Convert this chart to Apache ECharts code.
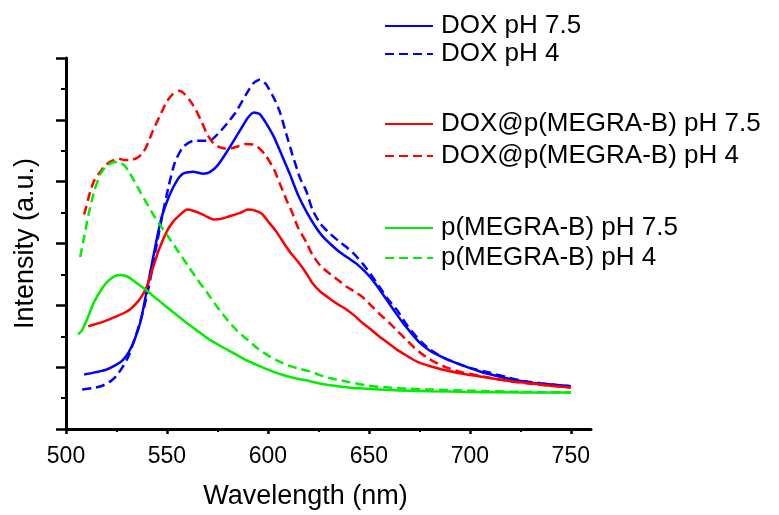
<!DOCTYPE html>
<html><head><meta charset="utf-8">
<script src="https://cdn.jsdelivr.net/npm/echarts@6/dist/echarts.min.js"></script>
<style>html,body{margin:0;padding:0;background:#fff}#c{width:779px;height:515px}</style>
</head><body><div id="c"></div>
<script>
const xTicks = [500, 550, 600, 650, 700, 750];
const names = ['DOX pH 7.5','DOX pH 4','DOX@p(MEGRA-B) pH 7.5','DOX@p(MEGRA-B) pH 4','p(MEGRA-B) pH 7.5','p(MEGRA-B) pH 4'];

const doxA_x = [509,515,520,525,528,531,534,537,540,543,547,551,555,558,563,568,571,575,580,586,590,593,596,599,603,607,611,615,619,623,627,632,636,640,644,650,655,659,663,667,671,675,680,684,690,697,705,713,721,730,740,750];
const doxA_y = [0.88,0.92,0.96,1.04,1.11,1.24,1.45,1.75,2.24,2.75,3.38,3.76,4.02,4.13,4.16,4.13,4.15,4.26,4.50,4.82,5.03,5.12,5.09,4.95,4.72,4.42,4.11,3.78,3.52,3.30,3.12,2.96,2.85,2.76,2.67,2.48,2.27,2.08,1.89,1.71,1.55,1.40,1.27,1.20,1.11,1.02,0.93,0.86,0.80,0.75,0.72,0.69];

const doxB_x = [508,513,518,522,525,528,531,535,538,541,545,548,551,554,558,563,567,571,576,580,584,589,593,596,599,603,606,609,612,616,619,622,626,631,635,639,643,647,651,655,659,664,668,672,676,680,686,693,701,710,718,726,735,743,750];
const doxB_y = [0.64,0.66,0.70,0.77,0.86,1.00,1.18,1.55,1.88,2.30,3.00,3.50,3.95,4.32,4.56,4.66,4.66,4.66,4.80,4.95,5.12,5.40,5.60,5.65,5.58,5.35,5.12,4.78,4.45,4.05,3.85,3.55,3.32,3.15,3.04,2.94,2.82,2.67,2.50,2.31,2.12,1.92,1.72,1.55,1.41,1.29,1.17,1.07,0.98,0.91,0.84,0.78,0.74,0.71,0.69];

const pdA_x = [511,515,519,525,529,532,535,537,540,543,546,550,553,556,560,563,567,570,573,577,581,586,590,593,597,600,604,608,611,615,619,622,626,631,635,639,643,647,651,655,660,664,668,672,676,680,688,697,705,713,721,730,740,750];
const pdA_y = [1.66,1.70,1.74,1.82,1.88,1.94,2.04,2.12,2.30,2.60,2.90,3.20,3.35,3.45,3.55,3.53,3.48,3.43,3.39,3.40,3.44,3.49,3.55,3.54,3.48,3.36,3.20,3.00,2.86,2.70,2.52,2.36,2.22,2.10,2.01,1.93,1.83,1.71,1.61,1.50,1.38,1.28,1.20,1.12,1.06,1.02,0.95,0.89,0.85,0.81,0.77,0.74,0.70,0.67];

const pdB_x = [509,512,514,517,520,523,526,529,532,535,538,540,543,547,550,553,556,558,561,564,567,570,573,576,580,584,589,593,596,599,603,606,609,612,615,619,622,626,631,635,639,643,647,651,655,660,664,668,672,676,680,688,697,705,713,721,730,740,750];
const pdB_y = [3.47,3.84,4.02,4.16,4.28,4.34,4.37,4.35,4.35,4.38,4.46,4.58,4.82,5.10,5.30,5.42,5.47,5.44,5.33,5.18,4.98,4.76,4.62,4.56,4.53,4.56,4.61,4.60,4.53,4.42,4.20,3.96,3.72,3.50,3.25,3.02,2.82,2.64,2.50,2.40,2.30,2.22,2.13,2.00,1.87,1.72,1.59,1.46,1.33,1.22,1.13,1.00,0.91,0.86,0.81,0.77,0.73,0.70,0.67];

const pA_x = [506,508,511,514,518,521,524,527,530,533,537,540,545,550,555,560,565,570,575,580,585,590,595,600,605,610,615,620,625,630,640,650,660,670,680,700,725,750];
const pA_y = [1.53,1.60,1.82,2.06,2.28,2.40,2.47,2.49,2.47,2.41,2.31,2.24,2.10,1.97,1.84,1.71,1.59,1.47,1.37,1.28,1.19,1.10,1.03,0.96,0.90,0.85,0.81,0.78,0.74,0.71,0.67,0.65,0.63,0.62,0.61,0.60,0.59,0.59];

const pB_x = [507,509,511,514,517,520,523,526,529,531,534,537,540,543,547,550,555,560,565,570,575,580,585,590,595,600,605,610,615,620,625,630,640,650,660,670,680,700,725,750];
const pB_y = [2.78,3.10,3.45,3.85,4.12,4.25,4.31,4.32,4.26,4.17,4.00,3.82,3.65,3.48,3.28,3.14,2.90,2.66,2.42,2.20,1.97,1.76,1.58,1.44,1.30,1.19,1.10,1.03,0.98,0.94,0.88,0.83,0.76,0.70,0.67,0.65,0.64,0.62,0.60,0.59];

const zip = (xs, ys) => xs.map((x, i) => [x, ys[i]]);
const FONT = 'Liberation Sans, Arial, sans-serif';
function mk(name, xs, ys, color, dashed) {
  return {
    name, type: 'line', data: zip(xs, ys), showSymbol: false, symbol: 'none', smooth: 0.2,
    lineStyle: { color, width: 2.5, type: dashed ? [9, 5] : 'solid' },
    itemStyle: { color }, z: 3
  };
}
function lg(items, top, gap) {
  return {
    data: items, left: 384, top, orient: 'vertical', itemWidth: 48, itemHeight: 14, itemGap: gap,
    padding: 0, selectedMode: false,
    itemStyle: { color: 'rgba(0,0,0,0)', borderColor: 'rgba(0,0,0,0)', borderWidth: 0 },
    textStyle: { fontFamily: FONT, fontSize: 26, color: '#000', lineHeight: 28, padding: [0, 0, 0, 3] }
  };
}
const chart = echarts.init(document.getElementById('c'), null, { renderer: 'canvas' });
chart.setOption({
  animation: false,
  backgroundColor: '#fff',
  textStyle: { fontFamily: FONT },
  grid: { left: 66, right: 188, top: 58, bottom: 81, containLabel: false },
  legend: [lg([names[0], names[1]], 12, 0), lg([names[2], names[3]], 110, 4), lg([names[4], names[5]], 214, 2)],
  xAxis: {
    type: 'value', min: 500, max: 760, interval: 50,
    name: 'Wavelength (nm)', nameLocation: 'middle', nameGap: 54,
    nameTextStyle: { fontSize: 27, color: '#000', fontFamily: FONT, padding: [0, 46, 0, 0] },
    axisLine: { lineStyle: { color: '#000', width: 3 } },
    axisTick: { show: true, length: 5, lineStyle: { color: '#000', width: 2.5 }, customValues: xTicks },
    minorTick: { show: true, splitNumber: 2, length: 3, lineStyle: { color: '#000', width: 2 } },
    axisLabel: { fontSize: 23, color: '#000', margin: 16, fontFamily: FONT, customValues: xTicks },
    splitLine: { show: false }, minorSplitLine: { show: false }
  },
  yAxis: {
    type: 'value', min: 0, max: 6, interval: 1,
    name: 'Intensity (a.u.)', nameLocation: 'middle', nameGap: 27, nameRotate: 90,
    nameTextStyle: { fontSize: 27, color: '#000', fontFamily: FONT },
    axisLine: { show: true, lineStyle: { color: '#000', width: 3 } },
    axisTick: { show: true, length: 10, lineStyle: { color: '#000', width: 2.5 } },
    minorTick: { show: true, splitNumber: 2, length: 5, lineStyle: { color: '#000', width: 2 } },
    axisLabel: { show: false },
    splitLine: { show: false }, minorSplitLine: { show: false }
  },
  series: [
    mk(names[0], doxA_x, doxA_y, '#0000ff', false),
    mk(names[1], doxB_x, doxB_y, '#0000ff', true),
    mk(names[2], pdA_x, pdA_y, '#ff0000', false),
    mk(names[3], pdB_x, pdB_y, '#ff0000', true),
    mk(names[4], pA_x, pA_y, '#00ee00', false),
    mk(names[5], pB_x, pB_y, '#00ee00', true)
  ]
});
</script></body></html>
